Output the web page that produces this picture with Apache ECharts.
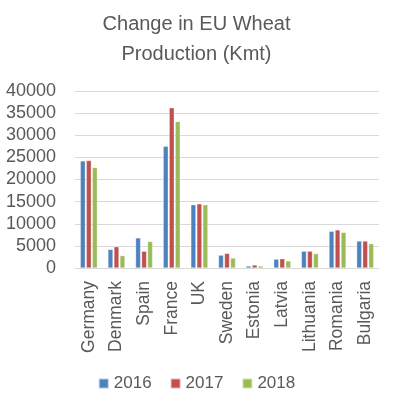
<!DOCTYPE html>
<html><head><meta charset="utf-8">
<script src="https://cdn.jsdelivr.net/npm/echarts@6/dist/echarts.min.js"></script>
<style>html,body{margin:0;padding:0;background:#fff}#c{width:393px;height:401px}</style>
</head><body><div id="c"></div>
<script>
const categories = ['Germany','Denmark','Spain','France','UK','Sweden','Estonia','Latvia','Lithuania','Romania','Bulgaria'];
const s2016 = [24200, 4200, 6800, 27500, 14300, 2900, 450, 2000, 3800, 8300, 6100];
const s2017 = [24300, 4800, 3800, 36200, 14500, 3300, 680, 2100, 3800, 8600, 6100];
const s2018 = [22700, 2800, 6000, 33100, 14300, 2250, 450, 1600, 3250, 8050, 5500];
const yTicks = [0, 5000, 10000, 15000, 20000, 25000, 30000, 35000, 40000];
const colors = ['#4F81BD', '#C0504D', '#9BBB59'];
const FONT = 'Liberation Sans';
const chart = echarts.init(document.getElementById('c'));
const mk = (name, data, i) => ({
  name, type: 'bar', data, barWidth: 5, barGap: '20%',
  itemStyle: { color: colors[i], borderColor: 'rgba(255,255,255,0.6)', borderWidth: 0.5 }
});
chart.setOption({
  animation: false,
  color: colors,
  title: {
    text: 'Change in EU Wheat\nProduction (Kmt)', left: 'center', top: 4,
    textStyle: { fontFamily: FONT, fontSize: 20, fontWeight: 'normal', color: '#595959', lineHeight: 30 }
  },
  legend: {
    bottom: 4, left: 'center', itemWidth: 10, itemHeight: 10, itemGap: 18,
    icon: 'rect',
    textStyle: { fontFamily: FONT, fontSize: 17, color: '#595959' }
  },
  grid: { left: 75, right: 14, top: 91, bottom: 133 },
  xAxis: {
    type: 'category', data: categories,
    axisLine: { lineStyle: { color: '#D9D9D9', width: 1 } },
    axisTick: { show: false },
    axisLabel: { rotate: 90, fontFamily: FONT, fontSize: 17.5, color: '#595959', margin: 13 }
  },
  yAxis: {
    type: 'value', min: yTicks[0], max: yTicks[yTicks.length - 1], interval: 5000,
    axisLine: { show: false }, axisTick: { show: false },
    splitLine: { lineStyle: { color: '#D9D9D9', width: 1 } },
    axisLabel: { fontFamily: FONT, fontSize: 18, color: '#595959', margin: 19, formatter: v => String(v) }
  },
  series: [mk('2016', s2016, 0), mk('2017', s2017, 1), mk('2018', s2018, 2)]
});
</script></body></html>
